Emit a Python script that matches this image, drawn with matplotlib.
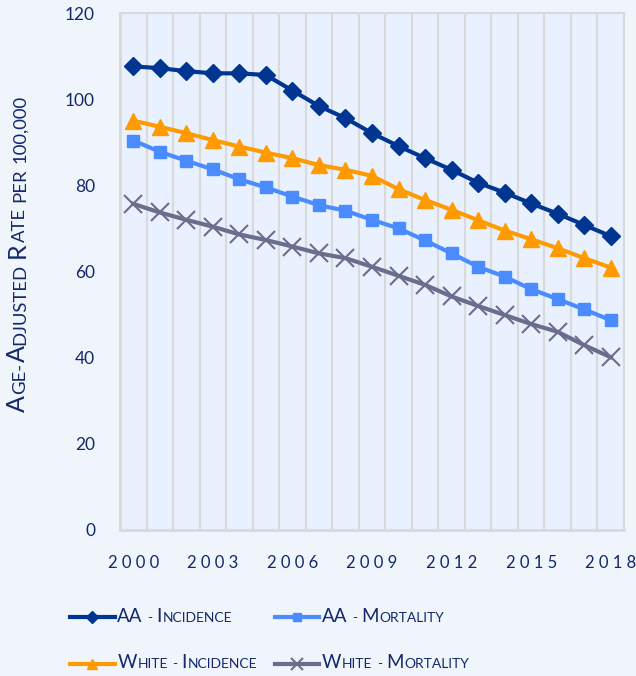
import numpy as np
import matplotlib
matplotlib.use("Agg")
import matplotlib.pyplot as plt
from matplotlib.transforms import IdentityTransform

# Data
years = list(range(2000, 2019))
aa_incidence = [107.6, 107.2, 106.5, 106.0, 106.0, 105.6, 102.0, 98.4, 95.6, 92.1,
                89.1, 86.3, 83.6, 80.6, 78.3, 75.8, 73.4, 70.8, 68.2]
aa_mortality = [90.4, 87.8, 85.7, 83.7, 81.4, 79.5, 77.4, 75.4, 74.1, 72.0,
                70.0, 67.2, 64.2, 61.1, 58.8, 55.9, 53.6, 51.2, 48.7]
white_incidence = [95.0, 93.6, 92.1, 90.5, 89.0, 87.6, 86.3, 84.7, 83.6, 82.2,
                   79.1, 76.6, 74.3, 71.9, 69.5, 67.5, 65.4, 63.1, 60.9]
white_mortality = [75.7, 73.7, 72.0, 70.4, 68.6, 67.3, 65.8, 64.2, 63.1, 61.1,
                   59.0, 56.9, 54.2, 52.0, 49.9, 47.8, 46.0, 42.9, 40.1]
series_names = ["AA - Incidence", "AA - Mortality", "White - Incidence", "White - Mortality"]
y_label = "Age-Adjusted Rate per 100,000"
y_ticks = [0, 20, 40, 60, 80, 100, 120]

FONT = "Lato"
TEXT = "#14296b"
plt.rcParams['font.family'] = [FONT, 'DejaVu Sans']


def scRuns(word):
    # split a word into (chunk, isBig) runs for fake small caps
    runs = []
    for ch in word:
        big = ch.isupper()
        if runs and runs[-1][1] == big:
            runs[-1][0] += ch.upper()
        else:
            runs.append([ch.upper(), big])
    return runs


def smallCaps(fig, x0, y0, text, bigSize, smallSize, rotation=0, gap=0.8):
    # draws text in small caps, starting at baseline point (x0, y0) in pixels
    r = fig.canvas.get_renderer()
    probe = fig.text(0, 0, "A A", fontsize=smallSize)
    probe2 = fig.text(0, 0, "AA", fontsize=smallSize)
    spaceW = probe.get_window_extent(r).width - probe2.get_window_extent(r).width
    probe.remove()
    probe2.remove()
    pos = 0.0
    words = text.split(" ")
    for wi, word in enumerate(words):
        for chunk, big in scRuns(word):
            t = fig.text(0, 0, chunk, fontsize=bigSize if big else smallSize,
                         color=TEXT, transform=IdentityTransform(),
                         ha="left", va="baseline")
            w = t.get_window_extent(r).width
            if rotation == 90:
                t.set_position((x0, y0 + pos))
                t.set_rotation(90)
                t.set_rotation_mode("anchor")
            else:
                t.set_position((x0 + pos, y0))
            pos += w + gap
        if wi < len(words) - 1:
            pos += spaceW


fig = plt.figure(figsize=(6.36, 6.76), dpi=100)
fig.patch.set_facecolor("#f0f4fb")
ax = fig.add_axes([120 / 636, 1 - 530 / 676, 504 / 636, 517 / 676])
ax.set_facecolor("#e8f1fd")

x = np.arange(len(years))
styles = [
    dict(color="#003591", marker="D", ms=9.5),
    dict(color="#4a8cff", marker="s", ms=9),
    dict(color="#ff9a00", marker="^", ms=11),
    dict(color="#6a6e8c", marker="x", ms=13, mew=1.5),
]
values = [aa_incidence, aa_mortality, white_incidence, white_mortality]
lines = []
for name, vals, st in zip(series_names, values, styles):
    ln, = ax.plot(x, vals, lw=3, label=name, **st)
    lines.append(ln)

ax.set_xlim(-0.5, len(years) - 0.5)
ax.set_ylim(0, 120)
ax.set_yticks(y_ticks)
ax.set_yticklabels([str(v) for v in y_ticks])
ax.set_xticks(x[::3])
ax.set_xticklabels([" ".join(str(y)) for y in years[::3]])
ax.set_xticks(np.arange(-0.5, len(years)), minor=True)
ax.grid(which="minor", axis="x", color="#d9d9d9", lw=1.5)
ax.tick_params(which="both", length=0)
ax.tick_params(axis="y", pad=18, labelsize=12.5, labelcolor=TEXT)
ax.tick_params(axis="x", pad=18, labelsize=12, labelcolor=TEXT)
for s in ax.spines.values():
    s.set_color("#d9d9d9")
    s.set_linewidth(1.5)
ax.spines["left"].set_linewidth(2)
ax.spines["bottom"].set_linewidth(2)

# legend (placeholder labels replaced by small caps text)
order = [0, 2, 1, 3]
leg = fig.legend([lines[i] for i in order], [series_names[i].upper() for i in order],
                 ncol=2, frameon=False, fontsize=9.5, loc="upper left",
                 bbox_to_anchor=(58 / 636, 1 - 600 / 676),
                 handlelength=3.4, handletextpad=0.2, columnspacing=2.4,
                 labelspacing=2.6, markerscale=0.65)
fig.canvas.draw()
for t, i in zip(leg.get_texts(), order):
    px, py = t.get_transform().transform(t.get_position())
    t.set_alpha(0)
    smallCaps(fig, px, py, series_names[i], 13.5, 10)

# y axis label
smallCaps(fig, 25, 676 - 412, y_label, 18, 13.3, rotation=90)

fig.savefig("out.png", dpi=100, facecolor=fig.get_facecolor())
